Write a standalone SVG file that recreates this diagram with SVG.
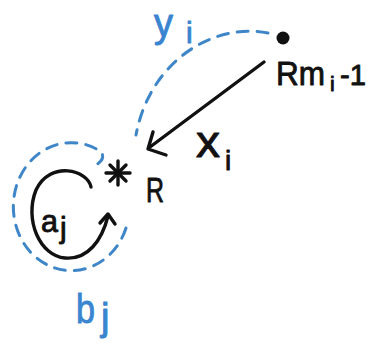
<svg xmlns="http://www.w3.org/2000/svg" width="370" height="343" viewBox="0 0 370 343">
<defs>
<style>
.blk{fill:none;stroke:#111;stroke-width:3.4;stroke-linecap:round;stroke-linejoin:round}
.dash{fill:none;stroke:#3f86c8;stroke-width:3;stroke-linecap:round;stroke-dasharray:11 9}
.t{font-family:"Liberation Sans",Arial,sans-serif;fill:#111;stroke:#111;stroke-width:0.9;stroke-linejoin:round}
.tb{font-family:"Liberation Sans",Arial,sans-serif;fill:#3a85d0;stroke:#3a85d0;stroke-width:0.9;stroke-linejoin:round}
</style>
</defs>
<rect width="370" height="343" fill="#fff"/>
<g id="connectors">
<path class="dash" d="M268 33 C215 22,150 60,136 135"/>
<path class="blk" d="M264 62 L150 147"/>
<polyline class="blk" points="153,132 148,149 166,155"/>
<path class="dash" d="M126 228 A58 64 0 1 1 100 151 Q107 158 96 165"/>
<path class="blk" d="M91 187 C88 170,50 160,36 190 C24 220,40 256,65 258 C88 260,102 240,108 216"/>
<polyline class="blk" points="100,223 108,214 115,224"/>
</g>
<g id="node-Rm">
<circle cx="283" cy="38" r="6.5" fill="#111"/>
<text class="t" x="276" y="85" font-size="34" textLength="49" lengthAdjust="spacingAndGlyphs">Rm</text>
<text class="t" x="330" y="91" font-size="21">i</text>
<text class="t" x="340" y="85" font-size="30" textLength="26" lengthAdjust="spacingAndGlyphs">-1</text>
</g>
<g id="node-R">
<g class="blk" stroke-width="3">
<line x1="118" y1="161" x2="118" y2="185"/>
<line x1="106" y1="173" x2="130" y2="173"/>
<line x1="110" y1="165" x2="126" y2="181"/>
<line x1="126" y1="165" x2="110" y2="181"/>
</g>
<text class="t" x="146" y="202" font-size="35" textLength="18" lengthAdjust="spacingAndGlyphs">R</text>
</g>
<g id="label-x">
<text class="t" x="196" y="157" font-size="44" textLength="24" lengthAdjust="spacingAndGlyphs">x</text>
<text class="t" x="225" y="170" font-size="28">i</text>
</g>
<g id="label-y">
<text class="tb" x="154" y="37" font-size="40" textLength="19" lengthAdjust="spacingAndGlyphs">y</text>
<text class="tb" x="186" y="43" font-size="30">i</text>
</g>
<g id="label-a">
<text class="t" x="41" y="232" font-size="32" textLength="17" lengthAdjust="spacingAndGlyphs">a</text>
<text class="t" x="60" y="238" font-size="30">j</text>
</g>
<g id="label-b">
<text class="tb" x="76" y="323" font-size="40" textLength="19" lengthAdjust="spacingAndGlyphs">b</text>
<text class="tb" x="101" y="330" font-size="38">j</text>
</g>
</svg>
